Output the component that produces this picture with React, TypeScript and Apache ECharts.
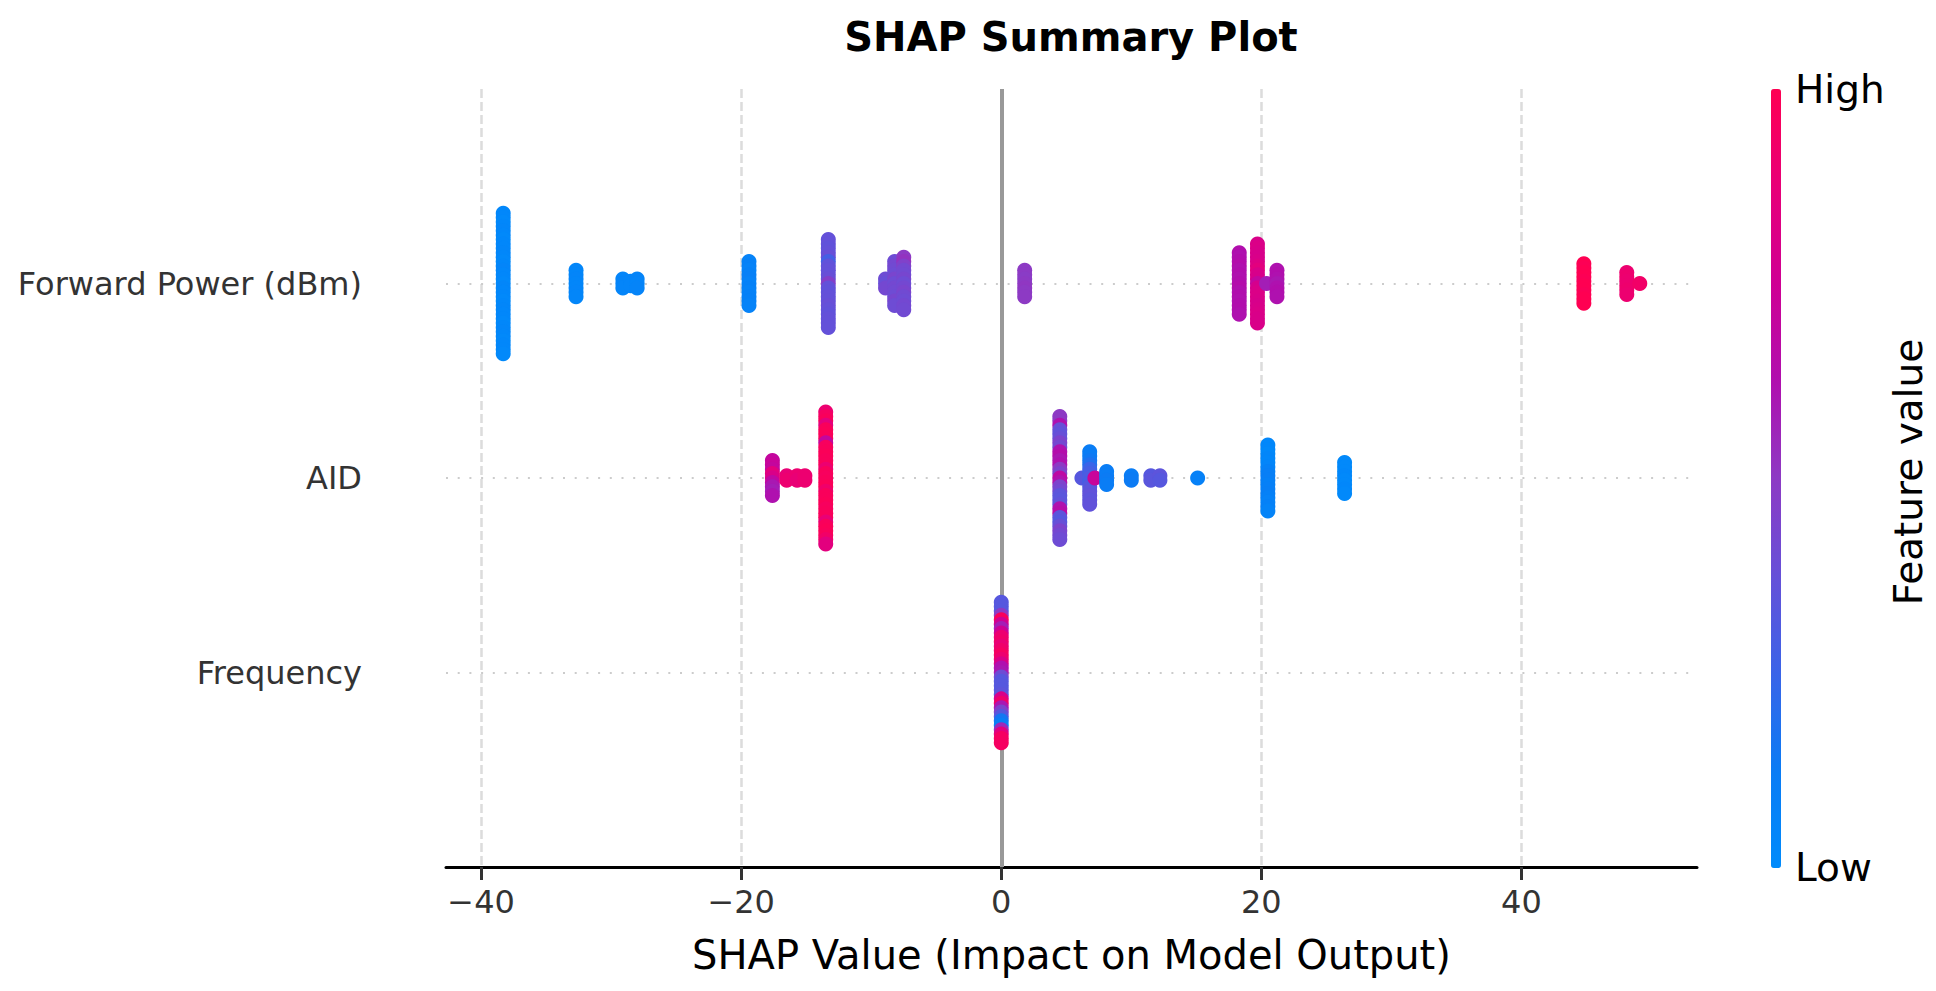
import React, { useEffect, useRef } from "react";
import * as echarts from "echarts";

// feature rows, bottom to top (y = 0, 1, 2)
const FEATURES = ["Frequency", "AID", "Forward Power (dBm)"];
const X_TICKS = [-40, -20, 0, 20, 40];

// one stack = points sharing a SHAP value; v = feature values (0 low .. 1 high), top to bottom
type Stack = { x: number; v: number[] };

const FORWARD_POWER: Stack[] = [
    { x: -38.3, v: [0.03, 0.03, 0.02, 0.03, 0.04, 0.03, 0.02, 0.03, 0.03, 0.04, 0.03, 0.02, 0.03, 0.05, 0.03, 0.03, 0.02, 0.04, 0.03, 0.03, 0.02, 0.03, 0.04, 0.03, 0.03, 0.02, 0.03, 0.04, 0.03, 0.02, 0.03, 0.03, 0.02] },
    { x: -32.7, v: [0.04, 0.04, 0.05, 0.04, 0.04, 0.05, 0.04] },
    { x: -29.1, v: [0.05, 0.06, 0.05] },
    { x: -28.5, v: [0.05, 0.05] },
    { x: -28.0, v: [0.06, 0.05, 0.06] },
    { x: -19.4, v: [0.07, 0.08, 0.07, 0.08, 0.09, 0.07, 0.08, 0.07, 0.08, 0.08, 0.07] },
    { x: -13.3, v: [0.37, 0.37, 0.36, 0.37, 0.38, 0.28, 0.36, 0.37, 0.37, 0.38, 0.47, 0.37, 0.36, 0.37, 0.37, 0.38, 0.37, 0.36, 0.37, 0.37, 0.37] },
    { x: -8.9, v: [0.4, 0.38, 0.42] },
    { x: -8.2, v: [0.4, 0.42, 0.41, 0.4, 0.44, 0.4, 0.42, 0.41, 0.4, 0.43, 0.4] },
    { x: -7.5, v: [0.5, 0.52, 0.46, 0.42, 0.41, 0.43, 0.4, 0.42, 0.44, 0.41, 0.4, 0.42, 0.41] },
    { x: 1.8, v: [0.5, 0.5, 0.49, 0.5, 0.51, 0.5, 0.5] },
    { x: 18.3, v: [0.63, 0.62, 0.63, 0.64, 0.62, 0.63, 0.62, 0.63, 0.64, 0.62, 0.63, 0.62, 0.63, 0.63, 0.62] },
    { x: 19.7, v: [0.8, 0.81, 0.8, 0.79, 0.8, 0.82, 0.85, 0.8, 0.79, 0.7, 0.78, 0.8, 0.81, 0.8, 0.79, 0.8, 0.81, 0.8, 0.8] },
    { x: 20.4, v: [0.58] },
    { x: 21.2, v: [0.62, 0.63, 0.62, 0.6, 0.62, 0.63, 0.62] },
    { x: 44.8, v: [1, 0.99, 1, 1, 0.99, 1, 1, 0.99, 1, 1] },
    { x: 48.1, v: [0.9, 0.91, 0.9, 0.9, 0.91, 0.9] },
    { x: 49.1, v: [0.93] },
];

const AID: Stack[] = [
    { x: -17.6, v: [0.7, 0.72, 0.7, 0.85, 0.8, 0.68, 0.6, 0.58, 0.62] },
    { x: -16.5, v: [0.88, 0.9] },
    { x: -15.7, v: [0.9, 0.88] },
    { x: -15.1, v: [0.9, 0.9] },
    { x: -13.5, v: [0.9, 0.95, 0.97, 0.85, 0.97, 0.98, 0.97, 0.7, 0.96, 0.97, 0.98, 0.97, 0.97, 0.9, 0.97, 0.96, 0.97, 0.98, 0.92, 0.97, 0.97, 0.98, 0.96, 0.97, 0.97, 0.88, 0.97, 0.98, 0.97, 0.93, 0.85] },
    { x: 4.5, v: [0.5, 0.5, 0.62, 0.38, 0.36, 0.38, 0.45, 0.42, 0.62, 0.64, 0.6, 0.62, 0.5, 0.45, 0.68, 0.62, 0.45, 0.42, 0.35, 0.34, 0.36, 0.62, 0.65, 0.35, 0.33, 0.38, 0.45, 0.42, 0.4] },
    { x: 6.2, v: [0.33] },
    { x: 6.8, v: [0.12, 0.12, 0.14, 0.18, 0.25, 0.28, 0.3, 0.28, 0.32, 0.35, 0.36, 0.35, 0.36] },
    { x: 7.2, v: [0.72] },
    { x: 8.1, v: [0.12, 0.12, 0.13, 0.12] },
    { x: 10.0, v: [0.12, 0.13] },
    { x: 11.5, v: [0.33, 0.34] },
    { x: 12.2, v: [0.35, 0.33] },
    { x: 15.1, v: [0.08] },
    { x: 20.5, v: [0.03, 0.03, 0.02, 0.04, 0.03, 0.05, 0.08, 0.1, 0.1, 0.08, 0.09, 0.1, 0.08, 0.07, 0.08, 0.06] },
    { x: 26.4, v: [0.02, 0.02, 0.02, 0.03, 0.02, 0.02, 0.03, 0.02] },
];

const FREQUENCY: Stack[] = [
    { x: 0, v: [0.33, 0.33, 0.33, 0.5, 0.97, 0.75, 0.58, 0.75, 0.9, 0.92, 0.88, 0.92, 0.95, 0.9, 0.8, 0.62, 0.6, 0.4, 0.33, 0.33, 0.33, 0.35, 0.8, 0.92, 0.6, 0.45, 0.33, 0.15, 0.1, 0.55, 0.85, 0.95, 0.95] },
];

// shap "red_blue" style colour ramp, low -> high
const COLORS = ["#008bfb", "#0a7cf5", "#3a64e8", "#6650d8", "#8d3ac4", "#b00fae", "#cf0094", "#e80078", "#ff0052"];

const STEP = 0.0226; // vertical gap between stacked points (row units)
const FONT = "DejaVu Sans";

function swarm(stacks: Stack[], row: number) {
    const out: number[][] = [];
    stacks.forEach((s) => {
        const mid = (s.v.length - 1) / 2;
        s.v.forEach((val, i) => out.push([s.x, row + (mid - i) * STEP, val]));
    });
    return out;
}

const fmtTick = (v: number) => (v < 0 ? "\u2212" + Math.abs(v) : String(v));

export default function App() {
    const chartRef = useRef<HTMLDivElement>(null);

    useEffect(() => {
        const chart = echarts.init(chartRef.current!, undefined, { renderer: "svg" });

        const rowLine = (y: number) => ({
            yAxis: y,
            lineStyle: { color: "#cccccc", width: 2, type: [2, 9.7] as any },
        });

        const scatter = (data: number[][]) => ({
            type: "scatter",
            data,
            symbol: "circle",
            symbolSize: 15,
            z: 3,
            itemStyle: { opacity: 1 },
            emphasis: { disabled: true },
        });

        const option: any = {
            animation: false,
            grid: { left: 446, right: 239, top: 89, bottom: 124 },
            xAxis: {
                type: "value",
                min: -42.7,
                max: 53.5,
                name: "SHAP Value (Impact on Model Output)",
                nameLocation: "middle",
                nameGap: 68,
                nameTextStyle: { fontSize: 40, color: "#000", fontFamily: FONT },
                axisLine: { onZero: false, lineStyle: { color: "#000", width: 3 } },
                axisTick: { customValues: X_TICKS, length: 13, lineStyle: { color: "#333", width: 3 } },
                axisLabel: {
                    customValues: X_TICKS,
                    formatter: fmtTick,
                    fontSize: 32,
                    color: "#333",
                    fontFamily: FONT,
                    margin: 19,
                },
                splitLine: { show: true, lineStyle: { color: "#dcdcdc", width: 2.5, type: [9, 4] } },
            },
            yAxis: {
                type: "value",
                min: -1,
                max: 3,
                axisLine: { show: false, onZero: false },
                axisTick: { show: false },
                splitLine: { show: false },
                axisLabel: {
                    customValues: [0, 1, 2],
                    formatter: (v: number) => FEATURES[v] ?? "",
                    fontSize: 32,
                    color: "#333",
                    fontFamily: FONT,
                    margin: 84,
                },
            },
            visualMap: {
                type: "continuous",
                min: 0,
                max: 1,
                dimension: 2,
                seriesIndex: [1, 2, 3],
                orient: "vertical",
                left: 1771,
                top: 89,
                itemWidth: 10,
                itemHeight: 779,
                padding: 0,
                calculable: false,
                hoverLink: false,
                inRange: { color: COLORS },
            },
            series: [
                {
                    type: "line",
                    data: [],
                    z: 1,
                    silent: true,
                    markLine: {
                        z: 1,
                        silent: true,
                        symbol: ["none", "none"],
                        label: { show: false },
                        data: [
                            rowLine(0),
                            rowLine(1),
                            rowLine(2),
                            { xAxis: 0, lineStyle: { color: "#999999", width: 4, type: "solid" } },
                        ],
                    },
                },
                scatter(swarm(FREQUENCY, 0)),
                scatter(swarm(AID, 1)),
                scatter(swarm(FORWARD_POWER, 2)),
            ],
            graphic: [
                {
                    type: "text",
                    x: 1071,
                    y: 37,
                    style: {
                        text: "SHAP Summary Plot",
                        fontSize: 40,
                        fontWeight: "bold",
                        fontFamily: FONT,
                        fill: "#000",
                        align: "center",
                        verticalAlign: "middle",
                    },
                },
                {
                    type: "text",
                    x: 1795,
                    y: 89,
                    style: { text: "High", fontSize: 39, fontFamily: FONT, fill: "#000", align: "left", verticalAlign: "middle" },
                },
                {
                    type: "text",
                    x: 1795,
                    y: 867,
                    style: { text: "Low", fontSize: 39, fontFamily: FONT, fill: "#000", align: "left", verticalAlign: "middle" },
                },
                {
                    type: "text",
                    x: 1908,
                    y: 472,
                    rotation: Math.PI / 2,
                    style: {
                        text: "Feature value",
                        fontSize: 39,
                        fontFamily: FONT,
                        fill: "#000",
                        align: "center",
                        verticalAlign: "middle",
                    },
                },
            ],
        };

        chart.setOption(option);

        return () => {
            chart.dispose();
        };
    }, []);

    return (
        <div
            ref={chartRef}
            style={{ position: "absolute", left: 0, top: 0, width: "1936px", height: "991px", background: "#fff" }}
        />
    );
}
